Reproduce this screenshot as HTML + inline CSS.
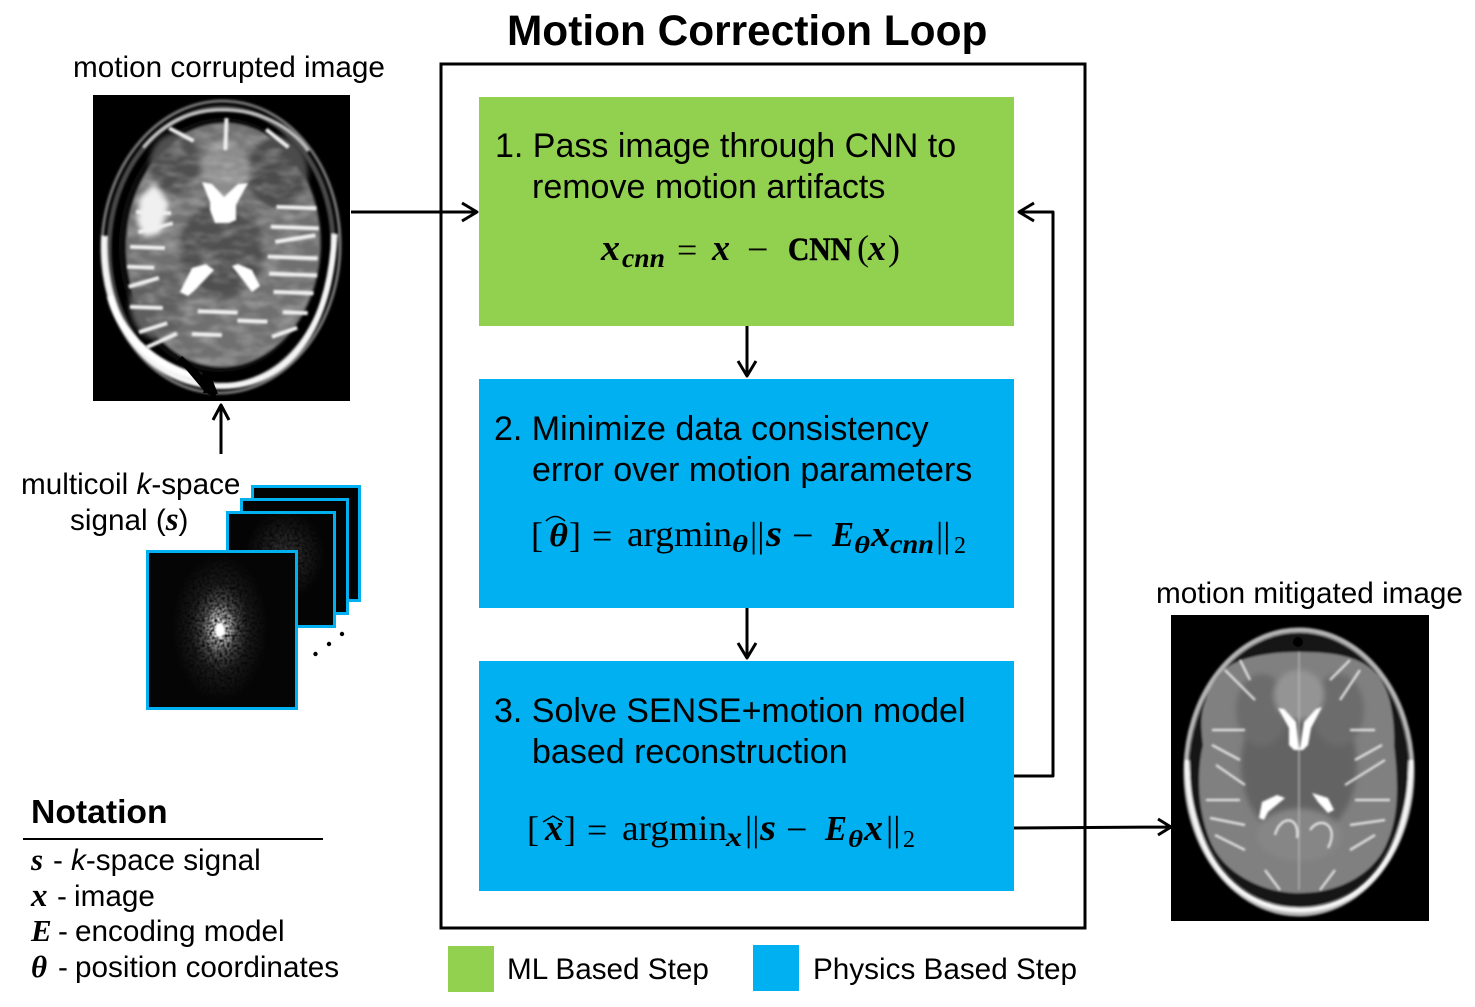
<!DOCTYPE html>
<html><head><meta charset="utf-8"><style>
html,body{margin:0;padding:0;background:#fff}
svg{display:block}
.a{font-family:"Liberation Sans",Arial,sans-serif;fill:#000}
.m{font-family:"Liberation Serif",serif;fill:#000}
.bi{font-family:"Liberation Serif",serif;font-weight:bold;font-style:italic;fill:#000}
.l{fill:none;stroke:#000;stroke-width:3;stroke-linejoin:round}
</style></head><body>
<svg xmlns="http://www.w3.org/2000/svg" width="1475" height="1007" viewBox="0 0 1475 1007">
<defs>
<filter id="b1" x="-10%" y="-10%" width="120%" height="120%"><feGaussianBlur stdDeviation="1"/></filter>
<filter id="b2" x="-20%" y="-20%" width="140%" height="140%"><feGaussianBlur stdDeviation="3"/></filter>
<filter id="b05" x="-10%" y="-10%" width="120%" height="120%"><feGaussianBlur stdDeviation="1.100"/></filter>
<filter id="mot" x="0" y="0" width="100%" height="100%">
<feTurbulence type="fractalNoise" baseFrequency=".05 .12" numOctaves="3" seed="7" result="n"/>
<feColorMatrix in="n" type="matrix" values="0 0 0 0 1 0 0 0 0 1 0 0 0 0 1 2.500 0 0 0 -1" result="w"/>
<feComposite in="w" in2="SourceAlpha" operator="in"/>
<feGaussianBlur stdDeviation="1.200"/>
</filter>
<filter id="spk" x="0" y="0" width="100%" height="100%">
<feTurbulence type="fractalNoise" baseFrequency=".4" numOctaves="2" seed="5" result="n"/>
<feColorMatrix in="n" type="matrix" values="0 0 0 0 1 0 0 0 0 1 0 0 0 0 1 2.500 0 0 0 -.6" result="w"/>
<feComposite in="SourceGraphic" in2="w" operator="in"/>
<feGaussianBlur stdDeviation=".5"/>
</filter>
<radialGradient id="ks"><stop offset="0" stop-color="#fff" stop-opacity="1"/><stop offset=".15" stop-color="#fff" stop-opacity=".8"/><stop offset=".35" stop-color="#fff" stop-opacity=".32"/><stop offset=".6" stop-color="#fff" stop-opacity=".1"/><stop offset="1" stop-color="#fff" stop-opacity="0"/></radialGradient>
<radialGradient id="ks2"><stop offset="0" stop-color="#fff" stop-opacity=".22"/><stop offset="1" stop-color="#fff" stop-opacity="0"/></radialGradient>
</defs>
<rect width="1475" height="1007" fill="#fff"/>

<text class="a" x="507" y="45" font-size="42.4" font-weight="bold">Motion Correction Loop</text>
<rect x="441" y="64" width="644" height="864" fill="none" stroke="#000" stroke-width="3"/>

<rect x="479" y="97" width="535" height="229" fill="#92d050"/>
<rect x="479" y="379" width="535" height="229" fill="#00b0f0"/>
<rect x="479" y="661" width="535" height="230" fill="#00b0f0"/>

<text class="a" x="495" y="157" font-size="34">1. Pass image through CNN to</text>
<text class="a" x="532" y="198" font-size="34">remove motion artifacts</text>
<text class="a" x="494" y="440" font-size="34">2. Minimize data consistency</text>
<text class="a" x="532" y="481" font-size="34">error over motion parameters</text>
<text class="a" x="494" y="722" font-size="34">3. Solve SENSE+motion model</text>
<text class="a" x="532" y="763" font-size="34">based reconstruction</text>

<!-- eq 1 -->
<text class="bi" x="601" y="260" font-size="37" textLength="19" lengthAdjust="spacingAndGlyphs">x</text>
<text class="bi" x="622" y="267" font-size="27" textLength="43" lengthAdjust="spacingAndGlyphs">cnn</text>
<text class="m" x="677" y="262" font-size="36">=</text>
<text class="bi" x="712" y="260" font-size="37" textLength="18" lengthAdjust="spacingAndGlyphs">x</text>
<text class="m" x="747" y="262" font-size="38">−</text>
<text class="m" x="788" y="260" font-size="33" font-weight="bold" stroke="#000" stroke-width=".6" textLength="64" lengthAdjust="spacingAndGlyphs">CNN</text>
<text class="m" x="857" y="260" font-size="36">(</text>
<text class="bi" x="868" y="260" font-size="37" textLength="18" lengthAdjust="spacingAndGlyphs">x</text>
<text class="m" x="888" y="260" font-size="36">)</text>

<!-- eq 2 -->
<text class="m" x="531" y="547" font-size="36">[</text>
<text class="bi" x="549" y="546" font-size="33" textLength="19" lengthAdjust="spacingAndGlyphs">θ</text>
<path d="M546 521Q555 512 565 521" fill="none" stroke="#000" stroke-width="1.500"/>
<text class="m" x="569" y="547" font-size="36">]</text>
<text class="m" x="592" y="548" font-size="36">=</text>
<text class="m" x="627" y="546" font-size="36" textLength="105" lengthAdjust="spacingAndGlyphs">argmin</text>
<text class="bi" x="732" y="552" font-size="24" textLength="16" lengthAdjust="spacingAndGlyphs">θ</text>
<text class="m" x="750" y="547" font-size="36">||</text>
<text class="bi" x="766" y="546" font-size="37" textLength="16" lengthAdjust="spacingAndGlyphs">s</text>
<text class="m" x="792" y="548" font-size="38">−</text>
<text class="bi" x="832" y="546" font-size="35" textLength="22" lengthAdjust="spacingAndGlyphs">E</text>
<text class="bi" x="854" y="553" font-size="24" textLength="16" lengthAdjust="spacingAndGlyphs">θ</text>
<text class="bi" x="871" y="546" font-size="37" textLength="19" lengthAdjust="spacingAndGlyphs">x</text>
<text class="bi" x="890" y="553" font-size="27" textLength="44" lengthAdjust="spacingAndGlyphs">cnn</text>
<text class="m" x="936" y="547" font-size="36">||</text>
<text class="m" x="954" y="553" font-size="24">2</text>

<!-- eq 3 -->
<text class="m" x="527" y="841" font-size="36">[</text>
<text class="bi" x="545" y="840" font-size="37" textLength="18" lengthAdjust="spacingAndGlyphs">x</text>
<path d="M543 822L553 816L563 822" fill="none" stroke="#000" stroke-width="1.500"/>
<text class="m" x="564" y="841" font-size="36">]</text>
<text class="m" x="587" y="842" font-size="36">=</text>
<text class="m" x="622" y="840" font-size="36" textLength="105" lengthAdjust="spacingAndGlyphs">argmin</text>
<text class="bi" x="726" y="846" font-size="27" textLength="16" lengthAdjust="spacingAndGlyphs">x</text>
<text class="m" x="745" y="841" font-size="36">||</text>
<text class="bi" x="760" y="840" font-size="37" textLength="16" lengthAdjust="spacingAndGlyphs">s</text>
<text class="m" x="786" y="842" font-size="38">−</text>
<text class="bi" x="825" y="840" font-size="35" textLength="22" lengthAdjust="spacingAndGlyphs">E</text>
<text class="bi" x="848" y="847" font-size="24" textLength="15" lengthAdjust="spacingAndGlyphs">θ</text>
<text class="bi" x="864" y="840" font-size="37" textLength="19" lengthAdjust="spacingAndGlyphs">x</text>
<text class="m" x="886" y="841" font-size="36">||</text>
<text class="m" x="903" y="847" font-size="24">2</text>

<!-- arrows -->
<path class="l" d="M351 212H477M462 203L477 212L462 221"/>
<path class="l" d="M747 326V376M738 361L747 376L756 361"/>
<path class="l" d="M747 608V658M738 643L747 658L756 643"/>
<path class="l" d="M1014 776H1053V212H1019M1034 203L1019 212L1034 221"/>
<path class="l" d="M1014 828L1170 827M1158 819L1171 827L1158 835"/>
<path class="l" d="M221 454V405M213 420L221 405L229 420"/>

<!-- labels -->
<text class="a" x="73" y="77" font-size="29.700">motion corrupted image</text>
<text class="a" x="1156" y="603" font-size="29.700">motion mitigated image</text>
<text class="a" x="21" y="494" font-size="29.700">multicoil <tspan font-style="italic">k</tspan>-space</text>
<text class="a" x="70" y="530" font-size="29.700">signal (<tspan class="bi" font-size="33">s</tspan>)</text>

<!-- brain 1 -->
<rect x="93" y="95" width="257" height="306" fill="#000"/>
<g transform="rotate(2 221 247)">
<g filter="url(#b1)">
<ellipse cx="221" cy="247" rx="119" ry="146" fill="none" stroke="#777" stroke-width="3"/>
<ellipse cx="221" cy="247" rx="112" ry="139" fill="none" stroke="#4a4a4a" stroke-width="5"/>
<path d="M104 240C104 335 160 386 222 386C285 386 333 335 334 230" fill="none" stroke="#f4f4f4" stroke-width="6"/>
<path d="M112 300C125 345 170 372 205 378" fill="none" stroke="#fff" stroke-width="7"/>
<path d="M140 150C165 118 195 110 222 110C255 110 285 122 305 148" fill="none" stroke="#c8c8c8" stroke-width="3"/>
<ellipse cx="221" cy="245" rx="102" ry="127" fill="#111"/>
<ellipse cx="223" cy="245" rx="97" ry="122" fill="#707070"/>
</g>
<g filter="url(#b2)">
<ellipse cx="222" cy="250" rx="42" ry="48" fill="#505050"/>
<ellipse cx="160" cy="305" rx="28" ry="36" fill="#5e5e5e"/>
<ellipse cx="275" cy="170" rx="30" ry="36" fill="#4c4c4c"/>
<ellipse cx="172" cy="165" rx="25" ry="30" fill="#505050"/>
<ellipse cx="222" cy="168" rx="22" ry="30" fill="#8c8c8c"/>
</g>
<ellipse cx="223" cy="245" rx="96" ry="121" fill="#fff" filter="url(#mot)" opacity=".28"/>
<g filter="url(#b05)" fill="none" stroke="#f0f0f0" stroke-width="4">
<path d="M135 215H170M138 235L172 225M130 250H165M128 270H155M130 290L160 280M132 310H165M142 335L170 325M150 350L180 335"/>
<path d="M275 205H315M270 225H318M275 240L315 232M268 255H318M270 272H318M275 290H315M285 310H310M275 335L300 325"/>
<path d="M165 130L190 142M262 128L285 145M222 118V150M195 335H225M240 320H270M200 312H240"/>
</g>
<path d="M138 200L152 186L168 205L160 236L145 240L136 226Z" fill="#f0f0f0" filter="url(#b2)"/>
</g>
<g filter="url(#b1)" fill="#fff">
<path d="M202 182L212 184L224 197L238 184L248 183L236 205L236 220L229 223L215 223L210 210L210 202Z"/>
<path d="M180 292L192 268L206 264L214 270L195 290L188 296Z"/>
<path d="M260 286L252 270L238 264L232 266L246 284L252 292Z"/>
</g>
<path d="M178 360L182 356L212 384L218 400L205 392Z" fill="#000"/>
<path d="M209 371L218 394L203 393Z" fill="#000"/>

<!-- brain 2 -->
<rect x="1171" y="615" width="258" height="306" fill="#000"/>
<g filter="url(#b1)">
<ellipse cx="1299" cy="772" rx="113" ry="142" fill="none" stroke="#b4b4b4" stroke-width="5"/>
<path d="M1187 760C1188 860 1240 910 1299 910C1360 910 1410 860 1411 760" fill="none" stroke="#f4f4f4" stroke-width="5"/>
<ellipse cx="1299" cy="770" rx="109" ry="137" fill="#161616"/>
<path d="M1299 652C1260 652 1228 660 1216 678C1200 705 1200 720 1203 745C1196 775 1198 815 1212 845C1225 872 1260 893 1299 893C1345 893 1375 870 1386 845C1400 815 1398 780 1394 745C1395 720 1390 690 1378 675C1362 658 1340 652 1299 652Z" fill="#808080"/>
</g>
<g filter="url(#b2)">
<ellipse cx="1299" cy="765" rx="58" ry="75" fill="#646464"/>
<ellipse cx="1262" cy="710" rx="26" ry="36" fill="#6c6c6c"/>
<ellipse cx="1338" cy="710" rx="26" ry="36" fill="#6c6c6c"/>
<ellipse cx="1299" cy="695" rx="25" ry="25" fill="#949494"/>
<ellipse cx="1299" cy="835" rx="42" ry="26" fill="#868686"/>
</g>
<g filter="url(#b05)" fill="none" stroke="#e8e8e8" stroke-width="2.200">
<path d="M1212 730H1245M1212 745L1240 760M1216 765L1245 785M1206 800H1240M1210 818L1245 825M1215 835L1245 850M1225 670L1255 700M1240 660L1250 680M1375 730H1350M1382 745L1355 760M1385 760L1345 785M1390 800H1355M1385 820L1350 825M1375 835L1350 850M1360 670L1340 700M1350 660L1330 680"/>
<path d="M1275 835C1280 815 1300 815 1297 838M1310 830C1320 815 1340 825 1328 848M1265 870L1280 890M1335 870L1320 890"/>
<path d="M1299 652V890" stroke="#bbb" stroke-width="1.200"/>
</g>
<g filter="url(#b05)" fill="#fff">
<path d="M1278 708L1284 709L1296 722L1299 748L1300 748L1304 722L1316 709L1322 707L1311 728L1308 745L1303 750H1294L1289 745L1289 728Z"/>
<path d="M1259 818L1262 802L1277 795L1285 798L1268 812L1264 820Z"/>
<path d="M1334 810L1328 798L1312 793L1318 802L1328 813Z"/>
</g>
<ellipse cx="1298" cy="642" rx="5" ry="5" fill="#000"/>

<!-- k-space frames -->
<g stroke="#00b0f0" stroke-width="3">
<rect x="252.500" y="486.500" width="107" height="114" fill="#030303"/>
<rect x="241.500" y="499.500" width="106" height="114" fill="#030303"/>
<rect x="227.500" y="512.500" width="107" height="114" fill="#040404"/>
</g>
<ellipse cx="285" cy="555" rx="40" ry="45" fill="url(#ks2)" filter="url(#spk)"/>
<rect x="147.500" y="551.500" width="149" height="157" fill="#050505" stroke="#00b0f0" stroke-width="3"/>
<ellipse cx="220" cy="628" rx="48" ry="74" fill="url(#ks)" filter="url(#spk)"/>
<ellipse cx="220" cy="630" rx="5" ry="7" fill="#fff" filter="url(#b1)"/>
<g fill="#000"><circle cx="315.500" cy="654" r="2.200"/><circle cx="329" cy="644" r="2.200"/><circle cx="342" cy="634" r="2.200"/></g>

<!-- notation -->
<text class="a" x="31" y="823" font-size="33.700" font-weight="bold">Notation</text>
<path d="M23 839H323" stroke="#000" stroke-width="2"/>
<text class="bi" x="31" y="870" font-size="31">s</text><text class="a" x="53" y="870" font-size="29.700">-</text><text class="a" x="71" y="870" font-size="29.700"><tspan font-style="italic">k</tspan>-space signal</text>
<text class="bi" x="31" y="906" font-size="33">x</text><text class="a" x="57" y="906" font-size="29.700">-</text><text class="a" x="74" y="906" font-size="29.700">image</text>
<text class="bi" x="31" y="941" font-size="31">E</text><text class="a" x="58" y="941" font-size="29.700">-</text><text class="a" x="75" y="941" font-size="29.700">encoding model</text>
<text class="bi" x="31" y="977" font-size="31">θ</text><text class="a" x="58" y="977" font-size="29.700">-</text><text class="a" x="75" y="977" font-size="29.700">position coordinates</text>

<!-- legend -->
<rect x="448" y="946" width="46" height="46" fill="#92d050"/>
<text class="a" x="507" y="979" font-size="29.700">ML Based Step</text>
<rect x="753" y="945" width="46" height="46" fill="#00b0f0"/>
<text class="a" x="813" y="979" font-size="29.700">Physics Based Step</text>
</svg>
</body></html>
